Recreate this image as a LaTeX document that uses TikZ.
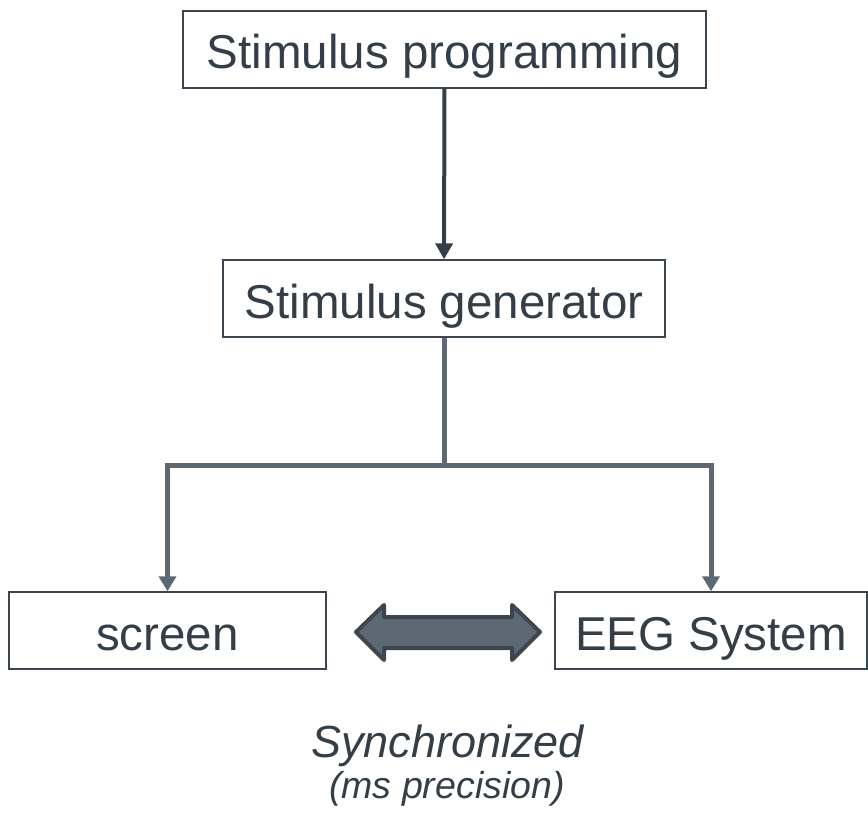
\documentclass[tikz,border=0pt]{standalone}
\usepackage{fontspec}
\setmainfont{Liberation Sans}
\usepackage{tikz}
\usetikzlibrary{arrows.meta}
\usetikzlibrary{positioning}
\definecolor{inkdark}{HTML}{333E48}
\definecolor{boxline}{HTML}{3B4550}
\definecolor{linkgray}{HTML}{5D6873}
\definecolor{syncfill}{HTML}{5E6873}
\definecolor{syncline}{HTML}{3C4650}
\tikzset{stagebox/.style = {draw = boxline, line width = 1.4pt, fill = white,
                            text = inkdark, inner sep = 0pt,
                            minimum height = 77pt, text height = 39pt, text depth = 0pt,
                            font = \fontsize{47.5}{56}\selectfont},
         feed/.style = {draw = inkdark, line width = 4pt,
                        -{Triangle[width = 17pt, length = 16pt]}},
         link/.style = {draw = linkgray, line width = 5pt},
         linkarrow/.style = {link, -{Triangle[width = 17pt, length = 15pt]}},
         syncarrow/.style = {draw = syncline, fill = syncfill, line width = 4pt,
                             line join = round}}

\begin{document}
\begin{tikzpicture}[x = 1pt, y = -1pt]
      \useasboundingbox (0, 0) rectangle (868, 813);

      \node [stagebox, minimum width = 523pt] (prog) at (444.5, 49.5) {Stimulus programming};
      \node [stagebox, minimum width = 442pt] (gen) at (444, 298.5) {Stimulus generator};
      \node [stagebox, minimum width = 317pt] (screen) at (167.5, 630.5) {screen};
      \node [stagebox, minimum width = 312pt] (eeg) at (711, 630.5) {EEG System};

      \draw [feed] (prog) -- (gen);

      % split towards the two outputs
      \coordinate (split) at (gen.south |- 0, 465);
      \draw [link] (gen) -- (split);
      \draw [linkarrow, line join = miter] (split) -| (screen.north);
      \draw [linkarrow, line join = miter] (split) -| (eeg.north);

      % synchronisation arrow
      \draw [syncarrow] (356, 632) -- (384, 605) -- (384, 617) -- (512, 617) --
      (512, 605) -- (540, 632) -- (512, 660) -- (512, 648) -- (384, 648) --
      (384, 660) -- cycle;

      \node [anchor = base, text = inkdark, font = \fontsize{45}{52}\selectfont\itshape]
      (sync) at (447.5, 757) {Synchronized};
      \node [anchor = base, text = inkdark, font = \fontsize{37.5}{44}\selectfont\itshape]
      (syncnote) at (447, 798) {(ms precision)};
    \end{tikzpicture}
\end{document}
